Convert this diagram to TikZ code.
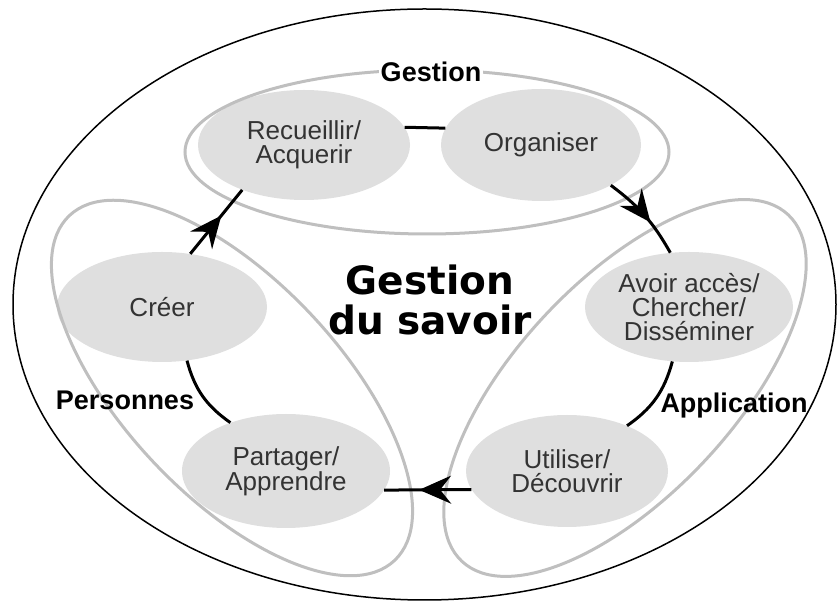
\documentclass[tikz,border=0pt]{standalone}
\usepackage{fontspec}
\setmainfont{Liberation Sans}
\newfontfamily\titlefont{DejaVu Sans}
\usetikzlibrary{arrows.meta,decorations.markings,shapes.geometric}

\tikzset{
  activite/.style={ellipse, fill=gray!25, inner sep=0pt, text=black!80, align=center,
    font=\fontsize{26pt}{24pt}\selectfont},
  cadre/.style={draw=gray!50, line width=3pt},
  domaine/.style={font=\fontsize{27pt}{30pt}\bfseries\selectfont, inner sep=2pt},
  midarrow/.style={postaction={decorate}, decoration={markings,
    mark=at position 0.6 with {\arrow{Stealth[length=32pt,width=28pt,inset=11pt]}}}}
}

\begin{document}
\begin{tikzpicture}[x=1pt,y=1pt]
  \useasboundingbox (0,0) rectangle (839,602);
  \draw[line width=1.5pt] (424.5,297.5) ellipse [x radius=411.5, y radius=295.5];

  \node[activite, minimum width=212, minimum height=110] (recueillir) at (304,457) {Recueillir/\\Acquerir};
  \node[activite, minimum width=200, minimum height=112] (organiser) at (541,457) {Organiser};
  \node[activite, minimum width=208, minimum height=110] (avoir) at (689,295) {Avoir accès/\\Chercher/\\Disséminer};
  \node[activite, minimum width=202, minimum height=112] (utiliser) at (567,131) {Utiliser/\\Découvrir};
  \node[activite, minimum width=208, minimum height=114] (partager) at (286,131) {Partager/\\Apprendre};
  \node[activite, minimum width=210, minimum height=110] (creer) at (162,295) {Créer};

  % les trois domaines
  \draw[cadre] (427,450) ellipse [x radius=242, y radius=82];
  \draw[cadre, rotate around={-46.7:(232,214)}] (232,214) ellipse [x radius=237, y radius=108];
  \draw[cadre, rotate around={46.7:(625,214)}] (625,214) ellipse [x radius=238, y radius=108];

  \node[domaine, fill=white, anchor=base] (gestion) at (431,520) {Gestion};
  \node[domaine, anchor=base] (personnes) at (125,192) {Personnes};
  \node[domaine, anchor=base] (application) at (734,189) {Application};
  \node[font=\titlefont\fontsize{39pt}{40pt}\bfseries\selectfont, align=center] (titre) at (430,302)
    {Gestion\\du savoir};

  \begin{scope}[line width=3pt]
    \draw (recueillir.10) -- (organiser.170);
    \draw[midarrow] (organiser.330) to[bend left=12] (avoir.109);
    \draw (avoir.253) to[bend left=20] (utiliser.37);
    \draw[midarrow] (utiliser.191) -- (partager.349);
    \draw (partager.139) to[bend left=20] (creer.295);
    \draw[midarrow] (creer.62) -- (recueillir.216);
  \end{scope}
\end{tikzpicture}
\end{document}
